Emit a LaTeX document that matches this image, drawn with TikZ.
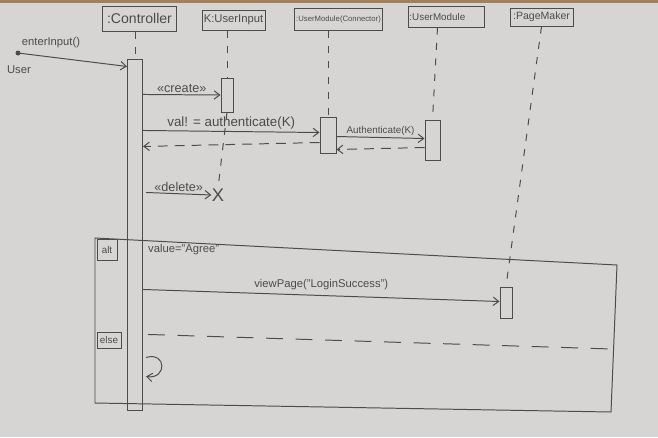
\documentclass[tikz,border=0pt]{standalone}
\usepackage{fontspec}
\setsansfont{Liberation Sans}
\usetikzlibrary{arrows.meta,calc}
\definecolor{paper}{HTML}{D6D5D3}
\definecolor{pencil}{HTML}{4C4C4C}
\newcommand{\hand}[1]{\sffamily\fontsize{#1}{#1}\selectfont}
\begin{document}
\begin{tikzpicture}[x=0.025cm, y=-0.025cm, color=pencil, line width=0.7pt,
    head/.style={draw, inner sep=1pt},
    act/.style={draw, fill=paper, inner sep=0pt},
    life/.style={dash pattern=on 5pt off 6pt},
    msg/.style={-{Straight Barb[length=4pt,width=6pt]}},
    ret/.style={msg, dash pattern=on 7pt off 5pt},
    lbl/.style={inner sep=1pt}]
  \fill[paper] (0,0) rectangle (658,437);
  \fill[brown!50!gray] (0,0) rectangle (658,3);
  \useasboundingbox (0,0) rectangle (658,437);
  % lifeline heads
  \node[head, minimum width=1.825cm, minimum height=0.625cm, font=\hand{10}] (ctrl) at (139.5,18.5) {:Controller};
  \node[head, minimum width=1.575cm, minimum height=0.5cm, font=\hand{8}] (inp) at (233.5,20) {K:UserInput};
  \node[head, minimum width=2.075cm, minimum height=0.55cm, font=\hand{5.5}] (conn) at (338.5,19) {:UserModule(Connector)};
  \node[head, text width=1.85cm, minimum height=0.525cm, font=\hand{7}, align=left] (umod) at (446.5,16.5) {:UserModule};
  \node[head, minimum width=1.575cm, minimum height=0.45cm, font=\hand{7.5}] (pmak) at (541.5,17) {:PageMaker};
  % activations
  \node[act, minimum width=0.375cm, minimum height=8.75cm] (actC) at (135,235) {};
  \node[act, minimum width=0.3cm, minimum height=0.85cm] (actI) at (227,95) {};
  \node[act, minimum width=0.4cm, minimum height=0.9cm] (actN) at (328,135) {};
  \node[act, minimum width=0.375cm, minimum height=1cm] (actM) at (432.5,140) {};
  \node[act, minimum width=0.3cm, minimum height=0.775cm] (actP) at (506,302.5) {};
  \node[font=\hand{13}, inner sep=0pt] (del) at (218,195) {X};
  % lifelines
  \draw[life] (actC.north |- ctrl.south) -- (actC.north);
  \draw[life] (actI.north |- inp.south) -- (actI.north);
  \draw[life] (actI.south) -- (del.north);
  \draw[life] (actN.north |- conn.south) -- (actN.north);
  \draw[life] ($(actM.north |- umod.south)+(5,0)$) -- (actM.north);
  \draw[life] (pmak.south) -- (actP.north);
  % messages
  \coordinate (user) at (18,53);
  \fill (user) circle (2.5);
  \node[font=\hand{8}] (userlbl) at (19,70) {User};
  \node[font=\hand{8}] (enter) at (51,43) {enterInput()};
  \draw[msg] (user) -- ($(actC.north west)+(0,7)$);
  \draw[msg] ($(actC.north east)+(0,35)$) -- (actI.west) node[lbl, font=\hand{9}, midway, above] (create) {«create»};
  \draw[msg] ($(actC.north east)+(0,71)$) -- ($(actN.north west)+(0,16)$) node[lbl, font=\hand{9.5}, midway, above] (auth) {val! = authenticate(K)};
  \draw[ret] ($(actN.north west)+(0,26)$) -- ($(actC.north east)+(0,87)$);
  \draw[msg] ($(actN.north east)+(0,20)$) -- ($(actM.north west)+(0,19)$) node[lbl, font=\hand{7}, midway, above] (auth2) {Authenticate(K)};
  \draw[ret] ($(actM.north west)+(0,28)$) -- ($(actN.north east)+(0,33)$);
  \draw[msg] ($(actC.north east)+(3,133)$) -- (del.west) node[lbl, font=\hand{9}, midway, above] (delete) {«delete»};
  % alt fragment
  \coordinate (fr1) at (95,238);
  \coordinate (fr2) at (617,265);
  \coordinate (fr3) at (611,412);
  \coordinate (fr4) at (95,403);
  \draw (fr1) -- (fr2) -- (fr3) -- (fr4) -- cycle;
  \node[draw, minimum width=0.5cm, minimum height=0.525cm, font=\hand{7}, inner sep=1pt] (alt) at (107,249.5) {alt};
  \node[font=\hand{8}, anchor=west] (guard) at (143,250) {value="Agree"};
  \draw[msg] ($(actC.north east)+(0,230)$) -- ($(actP.north west)+(0,15)$) node[lbl, font=\hand{8}, midway, above=3pt] (view) {viewPage("LoginSuccess")};
  \node[draw, minimum width=0.6cm, minimum height=0.4cm, font=\hand{7}, inner sep=1pt] (else) at (109,340) {else};
  \coordinate (sepR) at (612,349);
  \draw[dash pattern=on 12pt off 9pt] ($(actC.north east)+(5,275)$) -- (sepR);
  \draw[msg] ($(actC.north east)+(3,298)$) .. controls ($(actC.north east)+(24,292)$) and ($(actC.north east)+(24,320)$) .. ($(actC.north east)+(3,317)$);
\end{tikzpicture}
\end{document}
